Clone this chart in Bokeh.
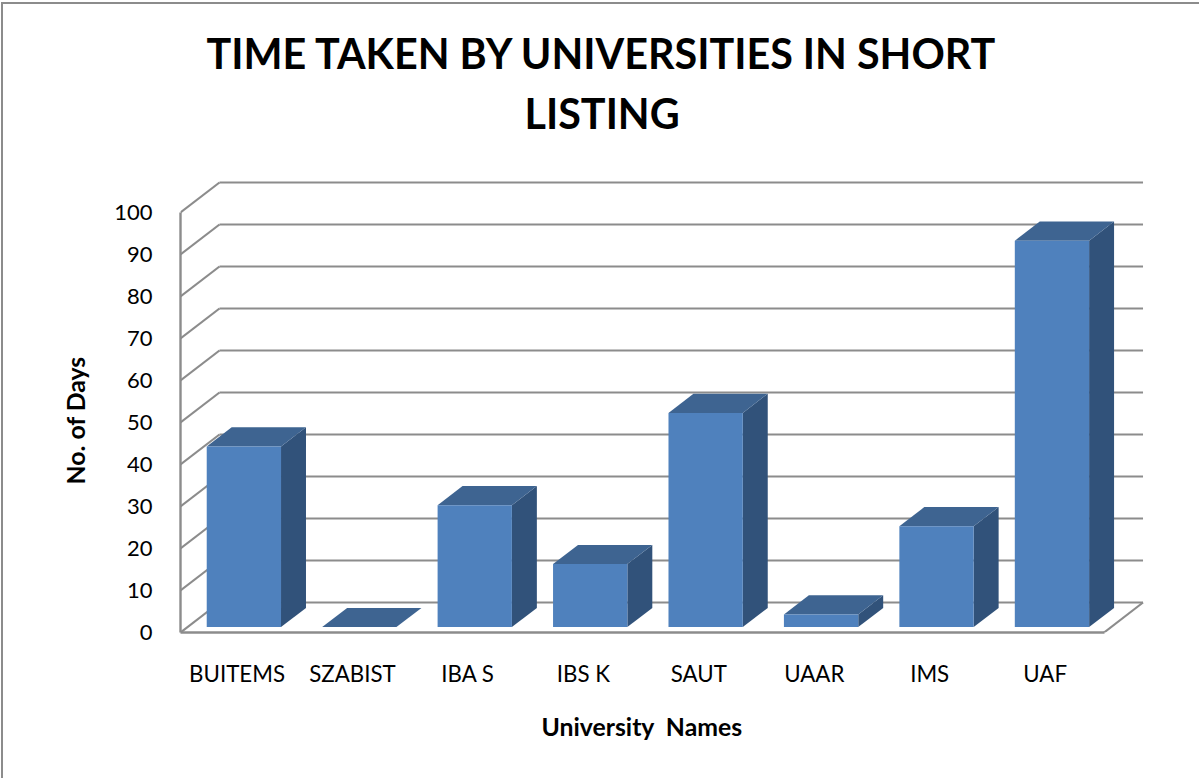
from bokeh.plotting import figure
from bokeh.models import Range1d, LinearAxis, FixedTicker, Title
from bokeh.embed import file_html
from bokeh.resources import INLINE

categories = ["BUITEMS", "SZABIST", "IBA S", "IBS K", "SAUT", "UAAR", "IMS", "UAF"]
days = [43, 0, 29, 15, 51, 3, 24, 92]
y_ticks = [0, 10, 20, 30, 40, 50, 60, 70, 80, 90, 100]
title_lines = ["TIME TAKEN BY UNIVERSITIES IN SHORT", "LISTING"]

GRID = "#8c8c8c"
FRONT, TOP, SIDE = "#4f81bd", "#3e6491", "#31527a"
FONT = "Lato"

# projection of the 3D box, in data units
DX, DY = 39 / 115.44, 30 / 4.2      # full wall depth
D0X, D0, D1 = 0.145, 0.18, 0.82     # bar depth range
BW = 74.3 / 115.44                  # bar width

W, H = 1199, 778
bg = "linear-gradient(#8c8c8c,#8c8c8c)"
p = figure(width=W, height=H, output_backend="svg", toolbar_location=None,
           x_range=Range1d(0, 965 / 115.44), y_range=Range1d(0, 462 / 4.2),
           x_axis_type=None, y_axis_type=None,
           min_border_left=180, min_border_right=54, min_border_top=170, min_border_bottom=146,
           margin=(0, 0, 0, 0), border_fill_alpha=0, background_fill_alpha=0,
           styles={"background": f"{bg} 1px 2px/100% 2.4px no-repeat, {bg} 1px 2px/2.4px 100% no-repeat, #ffffff"})
p.grid.visible = False
p.outline_line_color = None

def add_title(text, where, size, offset, standoff):
    p.add_layout(Title(text=text, align="left", offset=offset, standoff=standoff,
                       text_font=FONT, text_font_size=size, text_font_style="bold",
                       text_color="#000000"), where)

yax = LinearAxis(ticker=FixedTicker(ticks=y_ticks), bounds=(0, 100),
                 major_label_text_font=FONT, major_label_text_font_size="22px",
                 major_label_text_color="#000000", major_label_standoff=22,
                 major_tick_line_color=None, minor_tick_line_color=None,
                 axis_line_color=GRID, axis_line_width=2.4)
p.add_layout(yax, "left")

xax = LinearAxis(ticker=FixedTicker(ticks=[i + 0.49 for i in range(len(categories))]),
                 major_label_overrides={i + 0.49: c for i, c in enumerate(categories)},
                 bounds=(0, len(categories)),
                 major_label_text_font=FONT, major_label_text_font_size="22.3px",
                 major_label_text_color="#000000", major_label_standoff=21,
                 major_tick_line_color=None, minor_tick_line_color=None,
                 axis_line_color=GRID, axis_line_width=2.4)
p.add_layout(xax, "below")

add_title(title_lines[1], "above", "41.3px", 344, 66)
add_title(title_lines[0], "above", "41.3px", 26, -50)
add_title("No. of Days", "left", "24.8px", 148, 44)
add_title("University \u00a0Names", "below", "24.8px", 361, 40)

# walls
n = len(categories)
p.multi_line([[0, DX] for _ in y_ticks], [[v, v + DY] for v in y_ticks],
             line_color=GRID, line_width=2.2)
p.multi_line([[DX, n + DX] for _ in y_ticks], [[v + DY, v + DY] for v in y_ticks],
             line_color=GRID, line_width=2.2)
p.line([n, n + DX], [0, DY], line_color=GRID, line_width=2.2)

# bars
lefts = [i + 0.5 - BW / 2 + D0X * DX for i in range(n)]
rights = [l + BW for l in lefts]
bases = [D0 * DY] * n
tops = [v + D0 * DY for v in days]
ddx, ddy = (D1 - D0) * DX, (D1 - D0) * DY

p.patches([[r, r + ddx, r + ddx, r] for r in rights],
          [[b, b + ddy, t + ddy, t] for b, t in zip(bases, tops)],
          fill_color=SIDE, line_color=None)
p.patches([[l, l + ddx, r + ddx, r] for l, r in zip(lefts, rights)],
          [[t, t + ddy, t + ddy, t] for t in tops],
          fill_color=TOP, line_color=None)
p.quad(left=lefts, right=rights, bottom=bases, top=tops, fill_color=FRONT, line_color=None)

open("out.html", "w").write(file_html(p, INLINE))
